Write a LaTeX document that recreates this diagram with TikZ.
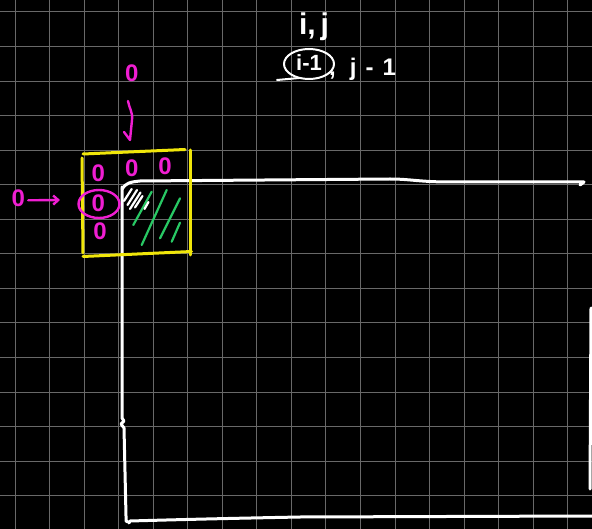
\documentclass[tikz,border=0pt]{standalone}
\usepackage{fontspec}
\setmainfont{Liberation Sans}
\usetikzlibrary{arrows.meta}
\definecolor{gridc}{RGB}{105,105,105}
\definecolor{mag}{RGB}{240,30,210}
\definecolor{yel}{RGB}{240,230,10}
\definecolor{grn}{RGB}{40,200,100}
\tikzset{
  chalk/.style={white, line width=3pt, line cap=round, line join=round},
  pen/.style={mag, line width=2.4pt, line cap=round, line join=round},
  ybox/.style={yel, line width=3pt, line cap=round},
  hatch/.style={grn, line width=2.2pt, line cap=round},
  whatch/.style={white, line width=2.2pt, line cap=round},
  zero/.style={text=mag, font=\fontsize{24}{24}\selectfont\bfseries, inner sep=0pt},
  wtext/.style={text=white, inner sep=0pt},
}
\begin{document}
\begin{tikzpicture}[x=1pt,y=-1pt]
\fill[black] (0,0) rectangle (592,529);
\useasboundingbox (0,0) rectangle (592,529);
% grid
\foreach \k in {0,...,16} \draw[gridc, line width=1pt] ({15+34.55*\k},0) -- ({15+34.55*\k},529);
\foreach \k in {0,...,14} \draw[gridc, line width=1pt] (0,{12+34.55*\k}) -- (592,{12+34.55*\k});

% white frame
\draw[chalk] (122,189) .. controls (126,183) and (130,182) .. (140,181) -- (390,179) .. controls (410,179) and (420,182) .. (450,182) -- (584,182) -- (580,185);
\draw[chalk] (122,187) -- (122,418) -- (124,421) -- (121,424) -- (124,428) -- (126,516) -- (126,521) -- (128,522);
\draw[chalk] (129,523) -- (130,521) .. controls (200,519) and (250,518) .. (300,517) -- (592,516);
\draw[chalk] (591,308) -- (590,489);

% green hatch
\draw[hatch] (151.7,191.7) -- (133.3,225);
\draw[hatch] (166.7,190) -- (141.7,245);
\draw[hatch] (180,198.3) -- (160,238.3);
\draw[hatch] (180,222.7) -- (171.7,241.7);
% white hatch
\draw[whatch] (124,201) -- (131.7,189);
\draw[whatch] (127.5,205) -- (137,190);
\draw[whatch] (130,209) -- (140.5,192.5);
\draw[whatch] (135,207.5) -- (142.5,196);
\draw[whatch] (144.5,209) -- (148.5,202);

% yellow box
\draw[ybox] (83,154) -- (185,149.5);
\draw[ybox] (82,158) -- (83,253);
\draw[ybox] (83,256.5) -- (191.5,251.5);
\draw[ybox] (190.5,150) -- (190.5,255);

% magenta zeros
\node[zero] (ztop) at (131.7,73.3) {0};
\node[zero] (z11) at (98.3,173.3) {0};
\node[zero] (z12) at (131.7,168.3) {0};
\node[zero] (z13) at (165,166.7) {0};
\node[zero] (zl) at (18.3,198.3) {0};
\node[zero] (z21) at (98.3,203) {0};
\node[zero] (z31) at (100,231.7) {0};
\draw[pen] (99,204) ellipse [x radius=20.5, y radius=14];
% arrows
\coordinate (ahook) at (124,132);
\draw[pen] (128,101) .. controls (129,108) and (133,112) .. (132,120) -- (130,140) -- (ahook);
\draw[pen, -{Straight Barb[length=5pt,width=9pt]}] (zl.east) ++(3,2) -- (60,200);

% white texts
\node[wtext, font=\fontsize{30}{30}\selectfont\bfseries, anchor=base] (ij) at (314,35) {i,\,j};
\node[wtext, font=\fontsize{22}{22}\selectfont\bfseries, anchor=base] (im1) at (309,71) {i-1};
\node[wtext, font=\fontsize{24}{24}\selectfont\bfseries, anchor=base west] (jm1) at (329,76) {,\hspace{14pt}j\hspace{9pt}-\hspace{9pt}1};
\draw[chalk, line width=2pt] (309,64) ellipse [x radius=25, y radius=15];
\draw[chalk, line width=2pt] (277,80) -- (299,78);
\end{tikzpicture}
\end{document}
